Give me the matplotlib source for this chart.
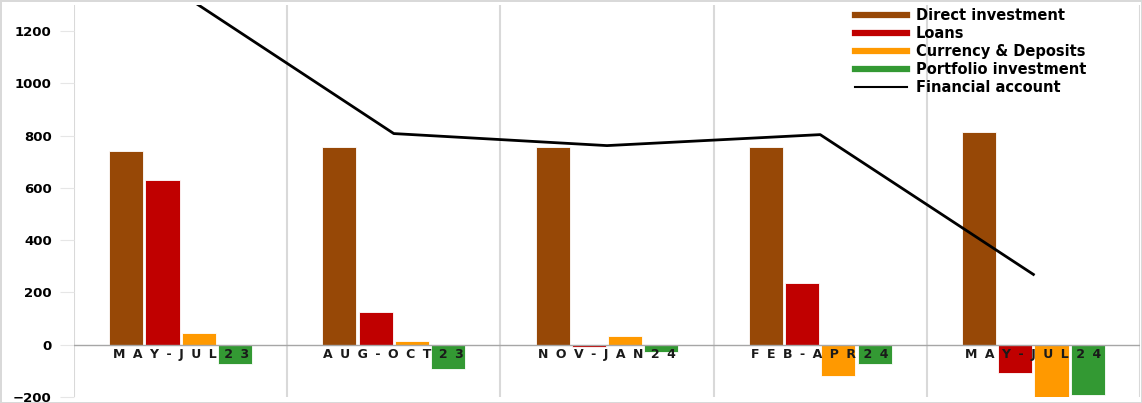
import numpy as np
import matplotlib
matplotlib.use("Agg")
import matplotlib.pyplot as plt
from matplotlib.lines import Line2D

periods = ["MAY-JUL 23", "AUG-OCT 23", "NOV-JAN 24", "FEB-APR 24", "MAY-JUL 24"]
direct_investment = [742, 758, 758, 758, 815]
loans = [631, 127, -8, 238, -108]
currency_deposits = [46, 16, 35, -119, -200]
portfolio_investment = [-73, -94, -27, -73, -192]
financial_account = [1345, 808, 762, 804, 269]

series = [
    ("Direct investment", direct_investment, "#974806"),
    ("Loans", loans, "#c00000"),
    ("Currency & Deposits", currency_deposits, "#ff9900"),
    ("Portfolio investment", portfolio_investment, "#339933"),
]

fig = plt.figure(figsize=(11.42, 4.03), dpi=100)
fig.patch.set_edgecolor("#d9d9d9")
fig.patch.set_linewidth(2)
ax = fig.add_axes([74 / 1142, 6 / 403, 1066 / 1142, 392 / 403])

x = np.arange(len(periods))
bw = 0.16
step = 0.17
for i, (name, vals, col) in enumerate(series):
    ax.bar(x + (i - 1.5) * step, vals, bw, color=col, edgecolor="white",
           linewidth=0.6, zorder=2)

ax.plot(x, financial_account, color="black", lw=2, zorder=3)

# light separators between periods
for b in np.arange(len(periods) + 1) - 0.5:
    ax.axvline(b, color="#d9d9d9", lw=1.5, zorder=0)
ax.axhline(0, color="#a6a6a6", lw=1, zorder=2.5)

ax.set_xlim(-0.5, len(periods) - 0.5)
ax.set_ylim(-200, 1300)
ax.set_yticks(range(-200, 1201, 200))
ax.set_xticks([])
for s in ax.spines.values():
    s.set_visible(False)
ax.tick_params(axis="y", length=10, color="#e6e6e6", labelsize=9.5, pad=6)
for t in ax.get_yticklabels():
    t.set_fontweight("bold")

# spaced-out category labels sitting just under the zero line
for xi, lab in zip(x, periods):
    ax.text(xi, -14, "\u2002\u200a".join(lab.replace(" ", "")), ha="center", va="top",
            fontsize=9, fontweight="bold", color="#1a1a1a", zorder=5)

handles = [Line2D([0], [0], color=c, lw=4.5) for _, _, c in series]
handles.append(Line2D([0], [0], color="black", lw=1.5))
labels = [n for n, _, _ in series] + ["Financial account"]
ax.legend(handles, labels, loc="upper right", bbox_to_anchor=(0.962, 1.025),
          frameon=False, prop={"weight": "bold", "size": 10.5},
          handlelength=3.6, labelspacing=0.2, handletextpad=0.6)

fig.savefig("out.png", dpi=100)
